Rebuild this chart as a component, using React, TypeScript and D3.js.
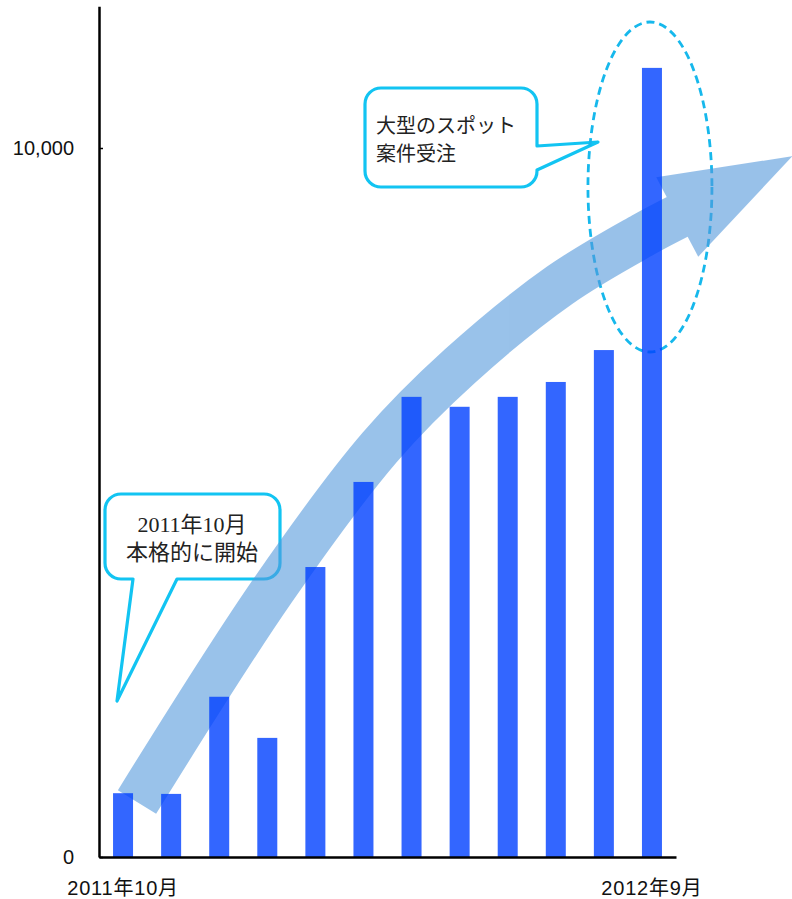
import React, { useEffect, useRef } from 'react';
import * as d3 from 'd3';

// monthly orders, Oct 2011 .. Sep 2012
const months = [
  '2011年10月', '2011年11月', '2011年12月', '2012年1月', '2012年2月', '2012年3月',
  '2012年4月', '2012年5月', '2012年6月', '2012年7月', '2012年8月', '2012年9月',
];
const orders = [900, 890, 2260, 1680, 4090, 5290, 6490, 6350, 6490, 6700, 7150, 11130];
const shownMonths = ['2011年10月', '2012年9月'];
const yTicks = [0, 10000];

const startNote = ['2011年10月', '本格的に開始'];
const spotNote = ['大型のスポット', '案件受注'];

const W = 792;
const H = 899;
const CYAN = '#12c4f2';

const x = d3.scaleBand<string>().domain(months).range([99, 676]).paddingInner(0.584).paddingOuter(0.292);
const y = d3.scaleLinear().domain([0, 12000]).range([857, 6.2]);

// rounded box with a pointer, used for the two callouts
function calloutPath(x0: number, y0: number, x1: number, y1: number, r: number, side: 'bottom' | 'right', a: number, b: number, tip: [number, number]) {
  const p = d3.path();
  p.moveTo(x0 + r, y0);
  p.lineTo(x1 - r, y0);
  p.arcTo(x1, y0, x1, y0 + r, r);
  if (side === 'right') {
    p.lineTo(x1, a);
    p.lineTo(tip[0], tip[1]);
    p.lineTo(x1, b);
  }
  p.lineTo(x1, y1 - r);
  p.arcTo(x1, y1, x1 - r, y1, r);
  if (side === 'bottom') {
    p.lineTo(b, y1);
    p.lineTo(tip[0], tip[1]);
    p.lineTo(a, y1);
  }
  p.lineTo(x0 + r, y1);
  p.arcTo(x0, y1, x0, y1 - r, r);
  p.lineTo(x0, y0 + r);
  p.arcTo(x0, y0, x0 + r, y0, r);
  p.closePath();
  return p.toString();
}

// big trend arrow
const trend: [number, number][] = [[137, 802], [273, 590], [380, 447], [460, 366], [560, 285], [643, 235], [679, 216]];

function arrowHead() {
  const [ex, ey] = trend[trend.length - 1];
  const [px, py] = trend[trend.length - 2];
  const len = Math.hypot(ex - px, ey - py);
  const dx = (ex - px) / len;
  const dy = (ey - py) / len;
  const nx = -dy;
  const ny = dx;
  const half = 45;
  const L = 128;
  const pts: [number, number][] = [
    [ex - 2 * dx + half * nx, ey - 2 * dy + half * ny],
    [ex + L * dx, ey + L * dy],
    [ex - 2 * dx - half * nx, ey - 2 * dy - half * ny],
  ];
  return 'M' + pts.map((q) => q.join(',')).join('L') + 'Z';
}

const App: React.FC = () => {
  const xAxisRef = useRef<SVGGElement | null>(null);
  const yAxisRef = useRef<SVGGElement | null>(null);

  useEffect(() => {
    const xa = d3.select(xAxisRef.current);
    xa.call(
      d3.axisBottom(x)
        .tickSize(0)
        .tickPadding(24)
        .tickFormat((d) => (shownMonths.includes(d) ? d : ''))
    );
    xa.select('.domain').attr('stroke', '#000').attr('stroke-width', 2.5);
    xa.selectAll('text')
      .attr('font-size', 20)
      .attr('letter-spacing', 0.8)
      .attr('fill', '#111')
      .attr('font-family', '"Liberation Sans", "Noto Sans CJK JP", sans-serif');

    const ya = d3.select(yAxisRef.current);
    ya.call(
      d3.axisLeft(y)
        .tickValues(yTicks)
        .tickFormat(d3.format(','))
        .tickSizeInner(-4)
        .tickSizeOuter(0)
        .tickPadding(25)
    );
    ya.select('.domain').attr('stroke', '#000').attr('stroke-width', 2.5);
    ya.selectAll('line').attr('stroke', '#000').attr('stroke-width', 1.5);
    ya.selectAll('text')
      .attr('font-size', 20)
      .attr('fill', '#111')
      .attr('font-family', '"Liberation Sans", sans-serif');
  }, []);

  const bw = x.bandwidth();
  const last = months[months.length - 1];
  const ecx = (x(last) ?? 0) + bw / 2 - 2;

  const trendPath = d3.line().curve(d3.curveCatmullRom.alpha(0.5))(trend) ?? '';

  return (
    <svg width={W} height={H} style={{ position: 'absolute', left: 0, top: 0, background: '#fff' }}>
      {/* callouts */}
      <path
        d={calloutPath(105, 494, 280, 579, 16, 'bottom', 133, 177, [117, 701])}
        fill="#fff"
        stroke={CYAN}
        strokeWidth={3.2}
        strokeLinejoin="round"
      />
      <g fontFamily='"Liberation Serif", "Noto Sans CJK JP", serif' fontSize={22} fill="#222" textAnchor="middle">
        {startNote.map((t, i) => (
          <text key={t} x={192} y={532 + i * 28}>{t}</text>
        ))}
      </g>
      <path
        d={calloutPath(365, 88, 537, 187, 16, 'right', 146, 170, [598, 142])}
        fill="#fff"
        stroke={CYAN}
        strokeWidth={3.2}
        strokeLinejoin="round"
      />
      <g fontFamily='"Noto Sans CJK JP", sans-serif' fontSize={20} fill="#222">
        {spotNote.map((t, i) => (
          <text key={t} x={376} y={133 + i * 28}>{t}</text>
        ))}
      </g>

      {/* highlight around the last month */}
      <ellipse cx={ecx} cy={187} rx={62} ry={165} fill="none" stroke="#16b8ec" strokeWidth={2.8} strokeDasharray="8 5" />

      {/* trend arrow */}
      <g opacity={0.6}>
        <path d={trendPath} fill="none" stroke="#5599dc" strokeWidth={45} strokeLinecap="butt" />
        <path d={arrowHead()} fill="#5599dc" />
      </g>

      {/* bars */}
      <g>
        {months.map((m, i) => (
          <rect
            key={m}
            x={x(m)}
            y={y(orders[i])}
            width={bw}
            height={y(0) - y(orders[i])}
            fill="#0040ff"
            fillOpacity={0.8}
          />
        ))}
      </g>

      <g ref={xAxisRef} transform={`translate(0,${y(0)})`} />
      <g ref={yAxisRef} transform={`translate(${x.range()[0]},0)`} />
    </svg>
  );
};

export default App;
